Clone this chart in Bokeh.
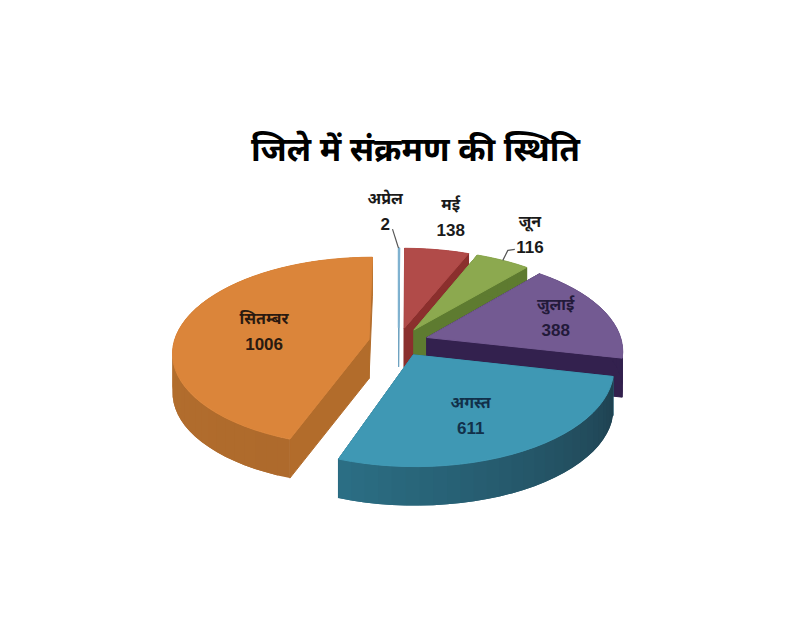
import math
from bokeh.plotting import figure
from bokeh.core.properties import value
from bokeh.embed import file_html
from bokeh.resources import INLINE

title_text = "जिले में संक्रमण की स्थिति"
months = ["अप्रेल", "मई", "जून", "जुलाई", "अगस्त", "सितम्बर"]
counts = [2, 138, 116, 388, 611, 1006]
top_colors = ["#7fb2d0", "#B14B49", "#8CA94F", "#735A92", "#3F98B4", "#DB853A"]
cut_colors = ["#6fa3c2", "#8B2F2D", "#5E7B30", "#33214E", "#245F75", "#B26C2B"]
wall_start = ["#6fa3c2", "#8B2F2D", "#5E7B30", "#33214E", "#1F4150", "#AE6A2C"]
wall_end = ["#6fa3c2", "#8B2F2D", "#5E7B30", "#33214E", "#2B6E84", "#B9732F"]
label_colors = ["#1a1a1a", "#1a1a1a", "#1a1a1a", "#231a3a", "#12304a", "#2a1a10"]
label_rho = [1.55, 1.50, 1.43, 0.72, 0.65, 0.53]
label_dx = [-14, 0, -6, 1, -11, -5]
draw_order = [0, 1, 2, 3, 5, 4]

# projection of the pie plane
CX, CY, R, TILT, PERSP, EXPLODE, DEPTH = 398, 341.5, 195, 0.48, 0.13, 0.154, 39


def project(theta, rho, mid):
    X = rho * math.sin(theta) + EXPLODE * math.sin(mid)
    Y = rho * math.cos(theta) + EXPLODE * math.cos(mid)
    s = 1 / (1 + PERSP * Y)
    return CX + R * X * s, CY - R * TILT * Y * s


def mix(a, b, t):
    va = [int(a[i:i + 2], 16) for i in (1, 3, 5)]
    vb = [int(b[i:i + 2], 16) for i in (1, 3, 5)]
    return "#%02x%02x%02x" % tuple(round(x + (y - x) * t) for x, y in zip(va, vb))


total = sum(counts)
bounds = [0.0]
for c in counts:
    bounds.append(bounds[-1] + c / total * 2 * math.pi)

p = figure(width=784, height=624, x_range=(0, 784), y_range=(624, 0),
           output_backend="svg", toolbar_location=None, min_border=0,
           outline_line_color=None, background_fill_color="white",
           border_fill_color="white")
p.axis.visible = False
p.grid.visible = False

for i in draw_order:
    a0, a1 = bounds[i], bounds[i + 1]
    mid = (a0 + a1) / 2
    n = max(2, int((a1 - a0) / 0.06))
    angles = [a0 + (a1 - a0) * k / n for k in range(n + 1)]
    apex = project(0, 0, mid)
    arc = [project(a, 1, mid) for a in angles]
    # cut walls
    for edge in (arc[0], arc[-1]):
        xs = [apex[0], edge[0], edge[0], apex[0]]
        ys = [apex[1], edge[1], edge[1] + DEPTH, apex[1] + DEPTH]
        p.patch(xs, ys, fill_color=cut_colors[i], line_color=cut_colors[i], line_width=1)
    # outer wall, painted in overlapping bands
    for k in range(n):
        col = mix(wall_start[i], wall_end[i], k / (n - 1))
        j = min(k + 2, n)
        xs = [arc[k][0], arc[k + 1][0], arc[j][0], arc[j][0], arc[k + 1][0], arc[k][0]]
        ys = [arc[k][1], arc[k + 1][1], arc[j][1], arc[j][1] + DEPTH, arc[k + 1][1] + DEPTH, arc[k][1] + DEPTH]
        p.patch(xs, ys, fill_color=col, line_color=None)
    # top face
    xs = [apex[0]] + [q[0] for q in arc]
    ys = [apex[1]] + [q[1] for q in arc]
    p.patch(xs, ys, fill_color=top_colors[i], line_color=top_colors[i],
            line_width=1.6 if i == 0 else 1)

# leader lines
q = project(bounds[0], 1, bounds[0])
p.line([q[0], q[0] - 6], [q[1], q[1] - 19], line_color="#555555", line_width=1.2)
q = project((bounds[2] + bounds[3]) / 2, 1, (bounds[2] + bounds[3]) / 2)
p.line([q[0], q[0] + 5, q[0] + 12], [q[1], q[1] - 10, q[1] - 11], line_color="#555555", line_width=1.2)

# labels
fonts = value("Noto Sans")
for i, name in enumerate(months):
    mid = (bounds[i] + bounds[i + 1]) / 2
    lx, ly = project(mid, label_rho[i], mid)
    lx += label_dx[i]
    p.text([lx], [ly - 13], text=[name], text_align="center", text_baseline="middle",
           text_font=fonts, text_font_size="16px", text_font_style="bold",
           text_color=label_colors[i])
    p.text([lx], [ly + 13], text=[str(counts[i])], text_align="center", text_baseline="middle",
           text_font=value("Liberation Sans"), text_font_size="17px", text_font_style="bold",
           text_color=label_colors[i])

p.text([415], [148], text=[title_text], text_align="center", text_baseline="middle",
       text_font=fonts, text_font_size="33px", text_font_style="bold", text_color="#000000")

open("out.html", "w").write(file_html(p, INLINE))
